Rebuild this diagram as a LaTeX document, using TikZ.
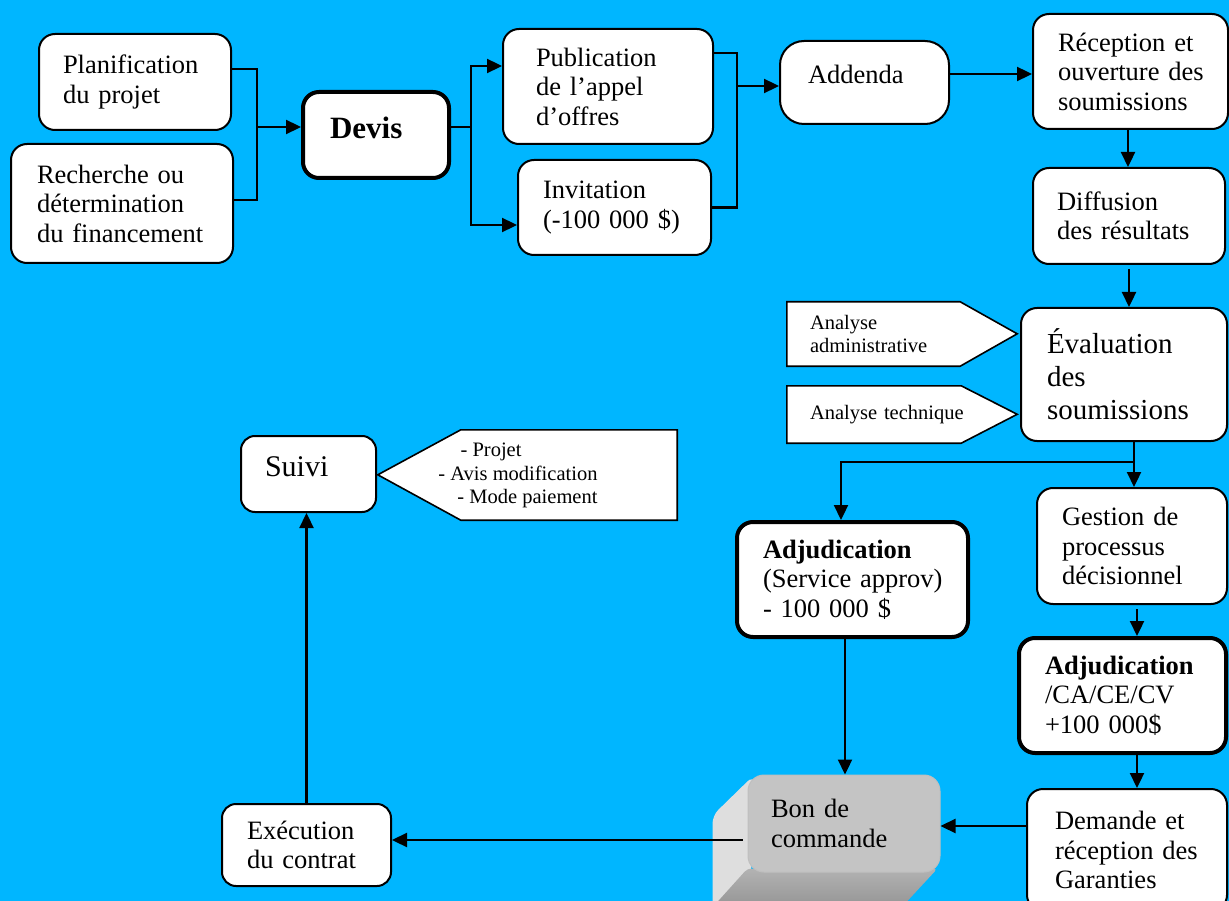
\documentclass[tikz,border=0pt]{standalone}
\usepackage{fontspec}
\setmainfont{Liberation Serif}
\usetikzlibrary{arrows.meta}
\pgfdeclarelayer{bglayer}
\pgfdeclarelayer{background}
\pgfsetlayers{bglayer,background,main}
\definecolor{bgcol}{RGB}{0,182,255}
\definecolor{bonfront}{RGB}{196,196,196}
\definecolor{bonside}{RGB}{222,222,222}
\begin{document}
\begin{tikzpicture}[x=1pt,y=-1pt,
  box/.style={draw=black, fill=white, line width=2pt, rounded corners=16pt, align=left, inner ysep=0pt,
    font=\fontsize{26.5}{29.5}\selectfont},
  thickbox/.style={box, line width=4pt},
  bonbox/.style={box, fill=bonfront, draw=black!25, line width=1pt},
  sigtext/.style={align=left, inner ysep=0pt, font=\fontsize{20.5}{23.5}\selectfont},
  sigline/.style={draw=black, fill=white, line width=1.6pt},
  line/.style={draw=black, line width=2.3pt},
  arr/.style={line, -{Triangle[length=15pt,width=14pt]}}]
\useasboundingbox (0,0) rectangle (1229,901);
\begin{pgfonlayer}{bglayer}
  \fill[bgcol] (0,0) rectangle (1229,901);
\end{pgfonlayer}

% boxes
\node[box, minimum height=96pt, text width=144pt, inner xsep=24pt] (plan) at (135,82) {\mbox{Planification}\\\mbox{du projet}};
\node[box, minimum height=119pt, text width=170pt, inner xsep=26pt] (rech) at (122,203.5) {\mbox{Recherche ou}\\\mbox{détermination}\\\mbox{du financement}};
\node[thickbox, minimum height=86pt, text width=92pt, inner xsep=27pt, font=\fontsize{31}{35}\selectfont\bfseries] (devis) at (376,135) {\raisebox{0pt}[\height][\dimexpr\depth+14pt\relax]{Devis}};
\node[box, minimum height=115pt, text width=144pt, inner xsep=33pt] (pub) at (608,86.5) {\mbox{Publication}\\\mbox{de l’appel}\\\mbox{d’offres}};
\node[box, minimum height=95pt, text width=143pt, inner xsep=25pt] (inv) at (614.5,207.5) {\mbox{Invitation}\\\mbox{(-100 000 \$)}};
\node[box, minimum height=83pt, text width=113pt, inner xsep=28pt, rounded corners=24pt] (add) at (864.5,82.5) {\raisebox{0pt}[\height][\dimexpr\depth+17pt\relax]{Addenda}};
\node[box, minimum height=115pt, text width=145pt, inner xsep=25pt] (rec) at (1130.5,71.5) {\mbox{Réception et}\\\mbox{ouverture des}\\\mbox{soumissions}};
\node[box, minimum height=96pt, text width=144pt, inner xsep=24pt] (diff) at (1129,216) {\mbox{Diffusion}\\\mbox{des résultats}};
\node[box, minimum height=133pt, text width=154pt, inner xsep=26pt, font=\fontsize{29}{33}\selectfont] (eval) at (1124,374.5) {\mbox{Évaluation}\\\mbox{des}\\\mbox{soumissions}};
\node[thickbox, minimum height=115pt, text width=179pt, inner xsep=26pt] (adj1) at (852.5,579.5) {\mbox{\textbf{Adjudication}}\\\mbox{(Service approv)}\\\mbox{- 100 000 \$}};
\node[box, minimum height=116pt, text width=140pt, inner xsep=25pt] (gest) at (1132,546) {\mbox{Gestion de}\\\mbox{processus}\\\mbox{décisionnel}};
\node[thickbox, minimum height=115pt, text width=155pt, inner xsep=26pt] (adj2) at (1122.5,695.5) {\mbox{\textbf{Adjudication}}\\\mbox{/CA/CE/CV}\\\mbox{+100 000\$}};
\node[box, minimum height=122pt, text width=144pt, inner xsep=28pt] (dem) at (1127,850) {\mbox{Demande et}\\\mbox{réception des}\\\mbox{Garanties}};
\node[bonbox, minimum height=97pt, text width=146pt, inner xsep=23pt] (bon) at (844,823.5) {\mbox{Bon de}\\\mbox{commande}};
\node[box, minimum height=82pt, text width=119pt, inner xsep=25pt, rounded corners=14pt] (exec) at (306.5,845) {\mbox{Exécution}\\\mbox{du contrat}};
\node[box, minimum height=76pt, text width=87pt, inner xsep=24pt, font=\fontsize{30}{34}\selectfont, rounded corners=14pt] (suivi) at (308.5,474) {\raisebox{0pt}[\height][\dimexpr\depth+14pt\relax]{Suivi}};

% arrow-shaped notes
\node[sigtext, minimum height=64pt, text width=127pt, inner xsep=23pt] (aa) at (873.5,334) {\mbox{Analyse}\\\mbox{administrative}};
\node[sigtext, minimum height=57pt, text width=128pt, inner xsep=23pt] (atech) at (874,414.5) {\mbox{Analyse technique}};
\node[minimum width=216pt, minimum height=90pt, inner sep=0pt] (cb) at (569,475) {};
\node[sigtext, align=right] (cbt) at (518,475.5) {- Projet\hspace*{76pt}\\\mbox{- Avis modification}\\\mbox{- Mode paiement}};

\begin{pgfonlayer}{background}
  \draw[sigline] (aa.north west) -- (aa.north east) -- ++(57pt,-32pt) -- (aa.south east) -- (aa.south west) -- cycle;
  \draw[sigline] (atech.north west) -- (atech.north east) -- ++(56pt,-28.5pt) -- (atech.south east) -- (atech.south west) -- cycle;
  \draw[sigline] (cb.north east) -- (cb.north west) -- ++(-83pt,-45pt) -- (cb.south west) -- (cb.south east) -- cycle;
  % 3D extrusion of "Bon de commande"
  \fill[bonside, rounded corners=8pt] ([xshift=6pt,yshift=-1pt]bon.north west) -- ++(-41pt,-40pt) -- ++(0pt,-100pt) -- ([xshift=4pt]bon.south west) -- cycle;
  \shade[top color=black!30, bottom color=black!42, rounded corners=4pt] ([yshift=4pt]bon.south west) -- ([xshift=-3pt,yshift=4pt]bon.south east) -- ++(-37pt,-40pt) -- ([xshift=-36pt,yshift=-36pt]bon.south west) -- cycle;
\end{pgfonlayer}

% connectors
\coordinate (j1) at (257,127);
\draw[line] ([yshift=13pt]plan.east) -| (j1) |- ([yshift=3.5pt]rech.east);
\draw[arr] (j1) -- (devis.west |- j1);

\coordinate (j2) at (471,127);
\draw[line] ([yshift=8pt]devis.east) -- (j2);
\draw[arr] (j2) |- ([yshift=20.5pt]pub.west);
\draw[arr] (j2) |- ([yshift=-17.5pt]inv.west);

\coordinate (j3) at (737,86);
\draw[line] ([yshift=33.5pt]pub.east) -| (j3) |- (inv.east);
\draw[arr] (j3) -- (add.west |- j3);

\coordinate (a1) at ([yshift=8.5pt]add.east);
\draw[arr] (a1) -- (a1 -| rec.west);

\coordinate (r1) at ([xshift=-2.5pt]rec.south);
\draw[arr] (r1) -- (r1 |- diff.north);
\draw[arr, shorten <=4pt] (diff.south) -- (diff.south |- eval.north);

\coordinate (j4) at (1134,462);
\draw[line] (j4 |- eval.south) -- (j4);
\coordinate (a2) at ([xshift=-11.5pt]adj1.north);
\draw[arr] (j4) -| (a2);
\draw[arr] (j4) -- (j4 |- gest.north);

\coordinate (g1) at ([xshift=5pt,yshift=-4pt]gest.south);
\draw[arr] (g1) -- (g1 |- adj2.north);
\coordinate (a3) at ([xshift=14.5pt]adj2.south);
\draw[arr] (a3) -- (a3 |- dem.north);
\coordinate (d1) at ([yshift=24pt]dem.west);
\draw[arr] (d1) -- (d1 -| bon.east);
\coordinate (a4) at ([xshift=-7.5pt]adj1.south);
\draw[arr] (a4) -- (a4 |- bon.north);
\coordinate (b1) at ([xshift=-5pt,yshift=-16.5pt]bon.west);
\draw[arr] (b1) -- (b1 -| exec.east);
\draw[arr] (exec.north) -- (exec.north |- suivi.south);
\end{tikzpicture}
\end{document}
